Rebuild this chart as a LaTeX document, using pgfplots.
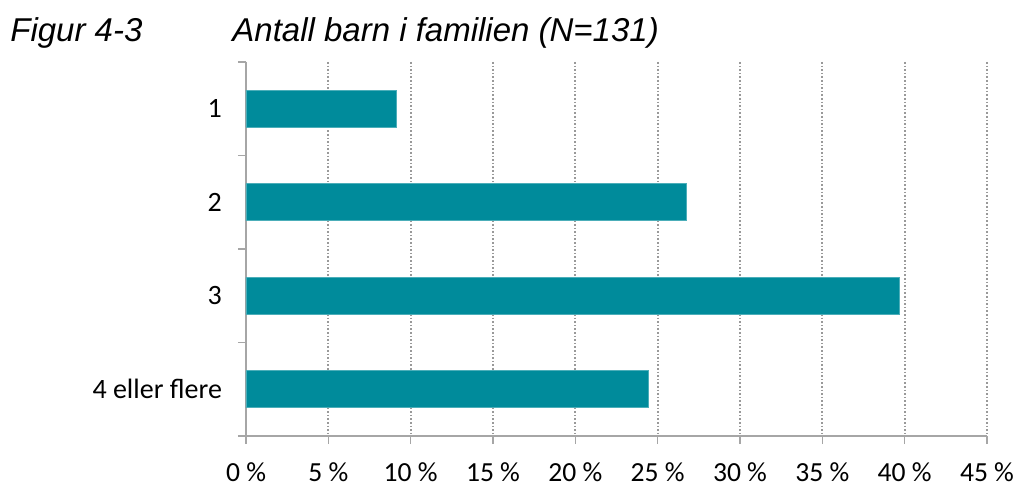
\documentclass[border=0pt]{standalone}
\usepackage{pgfplots}
\pgfplotsset{compat=1.18}
\usepackage{fontspec}
\setmainfont{Carlito}
\newfontfamily\titlefont{Liberation Sans}
\definecolor{barteal}{HTML}{008B9B}
\definecolor{axgray}{HTML}{A6A6A6}
\definecolor{gridgray}{HTML}{999999}

\pgfplotstableread{
cat pct
0 9.16
1 26.72
2 39.69
3 24.43
}\barndata

\begin{document}
\begin{tikzpicture}
\path[use as bounding box] (-123pt,-25pt) rectangle (385pt,218pt);
\begin{axis}[
    at={(0pt,0pt)}, anchor=south west,
    scale only axis,
    width=370.5pt, height=187pt,
    xbar,
    bar width=18.5pt,
    xmin=0, xmax=45,
    ymin=-0.5, ymax=3.5,
    y dir=reverse,
    axis lines=left,
    axis line style={-, axgray, line width=0.8pt},
    xtick={0,5,...,45},
    xticklabel={\pgfmathprintnumber{\tick}\ \%},
    ytick={0,1,2,3},
    yticklabels={1,2,3,4 eller flere},
    extra y ticks={-0.5,0.5,1.5,2.5,3.5},
    extra y tick labels={},
    extra y tick style={ytick style={draw=axgray, line width=0.8pt}},
    tick align=outside,
    major tick length=4pt,
    tick style={axgray, line width=0.8pt},
    ytick style={draw=none},
    xmajorgrids,
    major grid style={gridgray, line width=0.9pt, dash pattern=on 0.8pt off 1pt},
    ticklabel style={text=black},
    xticklabel style={font=\fontsize{13.8}{16}\selectfont, yshift=-6pt},
    yticklabel style={font=\fontsize{14}{16}\selectfont, xshift=-4.5pt},
    /pgf/number format/assume math mode=true,
    clip=false,
]
\addplot[fill=barteal, draw=barteal!70!white, line width=0.4pt] table[x=pct, y=cat] {\barndata};
\end{axis}
\node[anchor=base west, font=\titlefont\itshape\fontsize{16.5}{19}\selectfont, inner sep=0pt] at (-118pt,197pt) {Figur 4-3};
\node[anchor=base west, font=\titlefont\itshape\fontsize{16.5}{19}\selectfont, inner sep=0pt] at (-7pt,197pt) {Antall barn i familien (N=131)};
\end{tikzpicture}
\end{document}
